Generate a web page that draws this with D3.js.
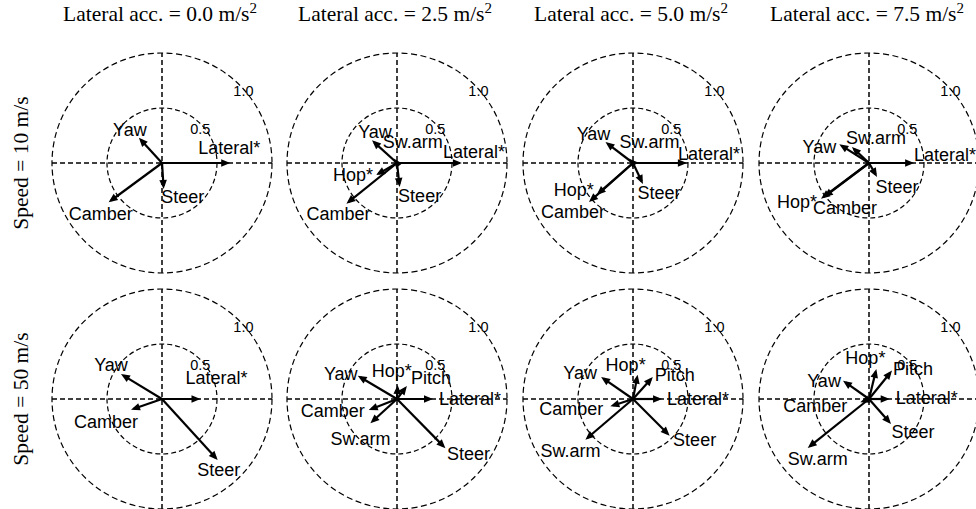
<!DOCTYPE html>
<html><head><meta charset="utf-8">
<script src="https://cdn.jsdelivr.net/npm/d3@7"></script>
<style>html,body{margin:0;padding:0;background:#fff;}svg{display:block;}</style>
</head><body>
<svg id="chart" width="976" height="509"></svg>
<script>
// ---------- data ----------
const rowLabels = ["Speed = 10 m/s", "Speed = 50 m/s"];
const colAcc = ["0.0", "2.5", "5.0", "7.5"];
const variables = ["Lateral*", "Yaw", "Camber", "Steer", "Sw.arm", "Hop*", "Pitch"];
const ringValues = [0.5, 1.0];
const ringLabels = ["0.5", "1.0"];
// x / y components per panel (row-major), in order of `variables`; null = absent
const xComp = [
  [0.62, -0.21, -0.485, 0.015, null, null, null],
  [0.59, -0.227, -0.46, 0.024, -0.03, -0.19, null],
  [0.49, -0.25, -0.40, 0.09, -0.04, -0.33, null],
  [0.41, -0.27, -0.436, 0.073, -0.155, -0.41, null],
  [0.35, -0.373, -0.282, 0.506, null, null, null],
  [0.327, -0.357, -0.257, 0.44, -0.242, 0.006, 0.09],
  [0.264, -0.29, -0.206, 0.333, -0.433, 0.042, 0.18],
  [0.188, -0.236, -0.079, 0.2, -0.557, 0.067, 0.209]
];
const yComp = [
  [0, 0.23, -0.357, -0.236, null, null, null],
  [0, 0.206, -0.37, -0.218, 0.04, -0.11, null],
  [0, 0.19, -0.355, -0.19, 0.04, -0.29, null],
  [0, 0.17, -0.324, -0.127, 0.145, -0.31, null],
  [0, 0.227, -0.097, -0.555, null, null, null],
  [0, 0.212, -0.10, -0.448, -0.221, 0.127, 0.118],
  [0, 0.2, -0.067, -0.333, -0.37, 0.221, 0.2],
  [0, 0.167, -0.03, -0.227, -0.445, 0.273, 0.258]
];

// ---------- layout ----------
const R = 110;
const colCenters = [162, 397, 633, 869];
const rowCenters = [163, 399];
// label nudges (px, relative to arrow tip), per panel, order of `variables`
const labelNudge = [
  [[-1,-15],[-9,-8],[-8,11],[19,8],null,null,null],
  [[12,-11],[3,-9],[-8,10],[20,9],[19,-17],[-23,0],null],
  [[22,-9],[-12,-8],[-16,10],[16,9],[21,-17],[-23,-5],null],
  [[31,-8],[-20,2],[24,9],[20,10],[24,-9],[-27,5],null],
  [[16,-21],[-10,-9],[-25,12],[1,10],null,null,null],
  [[37,0],[-17,-2],[-36,1],[23,5],[-10,15],[-6,-14],[24,-8]],
  [[36,0],[-21,-4],[-39,2],[25,4],[-15,11],[-12,-10],[22,-2]],
  [[37,-1],[-19,0],[-45,3],[22,8],[10,11],[-11,-11],[21,-2]]
];

const svg = d3.select("#chart");
const x = d3.scaleLinear().domain([-1, 1]).range([-R, R]);
const y = d3.scaleLinear().domain([-1, 1]).range([R, -R]);
const serif = "'Liberation Serif','Times New Roman',serif";
const sans = "'Liberation Sans',Arial,Helvetica,sans-serif";

// column titles
colAcc.forEach((a, j) => {
  const t = svg.append("text")
    .attr("x", colCenters[j] - 2).attr("y", 21)
    .attr("text-anchor", "middle")
    .attr("font-family", serif)
    .attr("font-size", 21.5).attr("fill", "#000");
  t.append("tspan").text(`Lateral acc. = ${a} m/s`);
  t.append("tspan").attr("font-size", 15).attr("dy", -8).text("2");
});
// row titles
rowLabels.forEach((lab, i) => {
  svg.append("text")
    .attr("transform", `translate(28,${rowCenters[i]}) rotate(-90)`)
    .attr("text-anchor", "middle")
    .attr("font-family", serif)
    .attr("font-size", 21.5).attr("fill", "#000")
    .text(lab);
});

for (let i = 0; i < 2; i++) {
  for (let j = 0; j < 4; j++) {
    const p = i * 4 + j;
    const g = svg.append("g").attr("transform", `translate(${colCenters[j]},${rowCenters[i]})`);
    // rings
    ringValues.forEach((rv, k) => {
      g.append("circle").attr("r", x(rv) - x(0))
        .attr("fill", "none").attr("stroke", "#000")
        .attr("stroke-width", 1.2).attr("stroke-dasharray", k === 1 ? "6,3.5" : "5,3");
    });
    // axes
    g.append("line").attr("x1", x(-1)).attr("x2", x(1)).attr("y1", y(0)).attr("y2", y(0))
      .attr("stroke", "#000").attr("stroke-width", 1.5).attr("stroke-dasharray", "5,3");
    g.append("line").attr("x1", x(0)).attr("x2", x(0)).attr("y1", y(-1)).attr("y2", y(1))
      .attr("stroke", "#000").attr("stroke-width", 1.5).attr("stroke-dasharray", "5,3");
    // ring labels
    ringValues.forEach((rv, k) => {
      const a = 43 * Math.PI / 180;
      g.append("text")
        .attr("x", x(rv * Math.cos(a)) + (k === 1 ? 1 : -2))
        .attr("y", y(rv * Math.sin(a)) + 3)
        .attr("dy", "0.35em").attr("text-anchor", "middle")
        .attr("font-family", sans).attr("font-size", 14.5).attr("fill", "#000")
        .text(ringLabels[k]);
    });
    // arrows
    variables.forEach((v, k) => {
      const vx = xComp[p][k], vy = yComp[p][k];
      if (vx === null) return;
      const tx = x(vx), ty = y(vy);
      const ang = Math.atan2(ty - y(0), tx - x(0));
      const hl = 9, hw = 3.8;
      const bx = tx - hl * Math.cos(ang), by = ty - hl * Math.sin(ang);
      g.append("line").attr("x1", x(0)).attr("y1", y(0))
        .attr("x2", tx - 3 * Math.cos(ang)).attr("y2", ty - 3 * Math.sin(ang))
        .attr("stroke", "#000").attr("stroke-width", 2.2);
      g.append("path")
        .attr("d", `M${tx},${ty}L${bx - hw * Math.sin(ang)},${by + hw * Math.cos(ang)}L${bx + hw * Math.sin(ang)},${by - hw * Math.cos(ang)}Z`)
        .attr("fill", "#000");
    });
    // labels
    variables.forEach((v, k) => {
      const vx = xComp[p][k], vy = yComp[p][k];
      if (vx === null) return;
      const nd = labelNudge[p][k];
      g.append("text")
        .attr("x", x(vx) + nd[0]).attr("y", y(vy) + nd[1])
        .attr("dy", "0.35em").attr("text-anchor", "middle")
        .attr("font-family", sans).attr("font-size", 18).attr("fill", "#000")
        .text(v);
    });
  }
}
</script>
</body></html>
